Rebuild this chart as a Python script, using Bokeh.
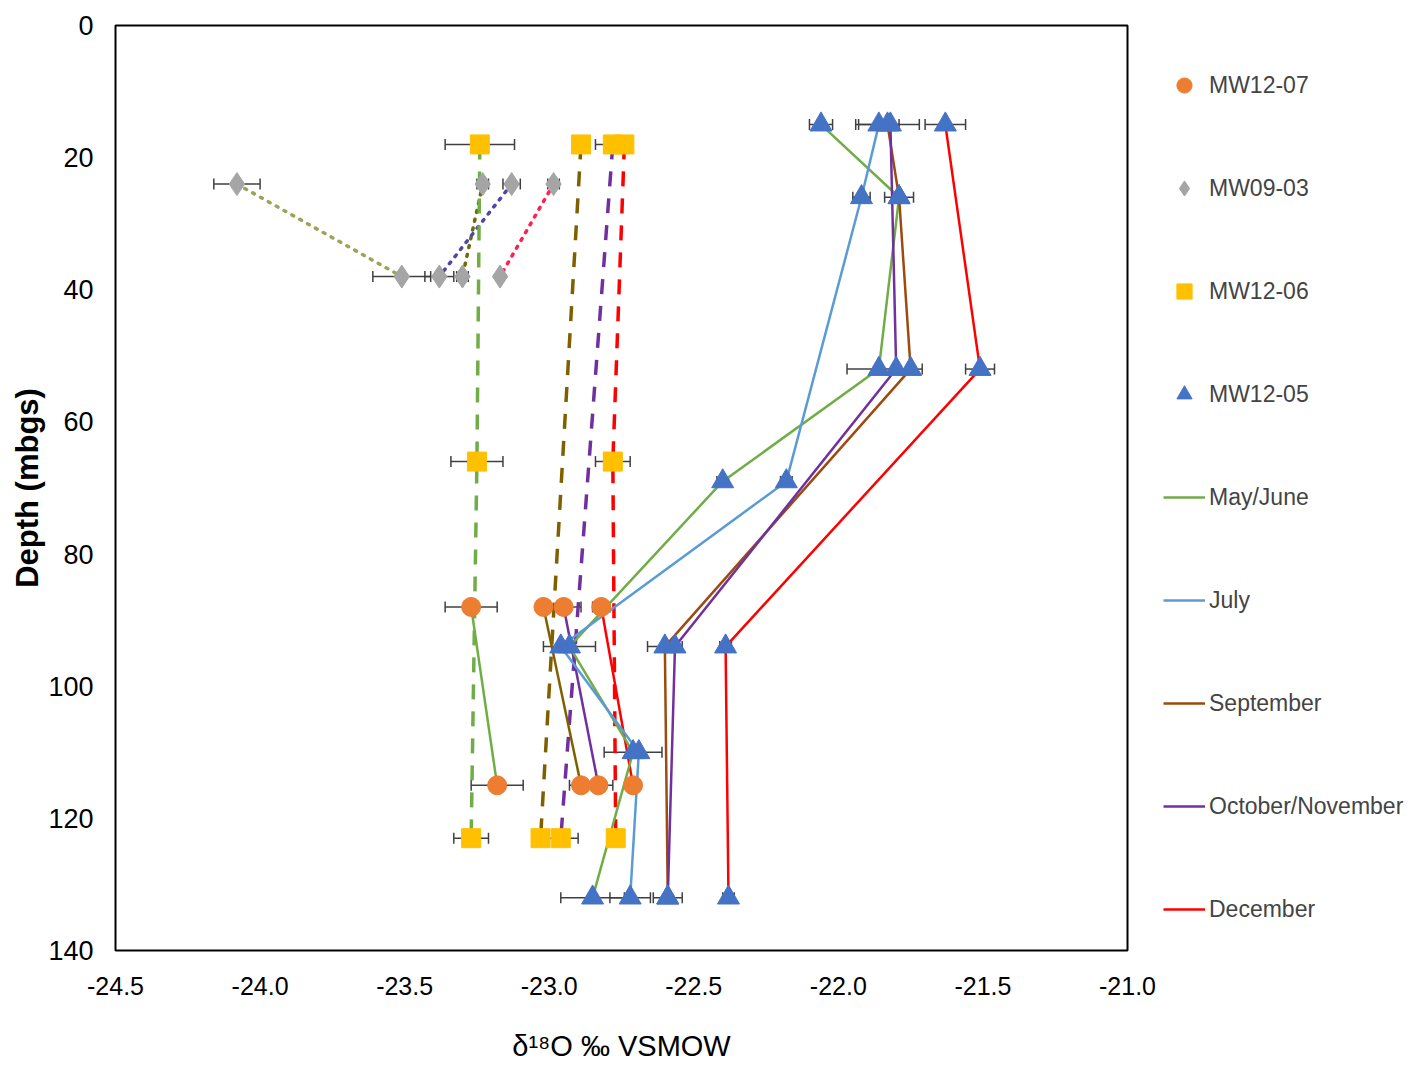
from bokeh.plotting import figure
from bokeh.models import (Range1d, FixedTicker, PrintfTickFormatter, Legend, LegendItem,
                          Whisker, ColumnDataSource, TeeHead)
from bokeh.embed import file_html
from bokeh.resources import INLINE

# ---------------- data (delta18O permil VSMOW vs depth mbgs) ----------------
# MW12-05 (triangles)
mw1205_may_d = [15, 26, 52, 69, 94, 110, 132]
mw1205_may_x = [-22.06, -21.79, -21.86, -22.40, -22.93, -22.71, -22.85]
mw1205_may_e = [0.04, 0.05, 0.11, 0.02, 0.09, 0.10, 0.11]
mw1205_jul_d = [15, 26, 69, 94, 110, 132]
mw1205_jul_x = [-21.86, -21.92, -22.18, -22.96, -22.69, -22.72]
mw1205_jul_e = [0.07, 0.03, 0.02, 0.0, 0.0, 0.07]
mw1205_sep_d = [15, 26, 52, 94, 132]
mw1205_sep_x = [-21.83, -21.79, -21.75, -22.60, -22.59]
mw1205_sep_e = [0.11, 0.0, 0.04, 0.06, 0.05]
mw1205_oct_d = [15, 52, 94, 132]
mw1205_oct_x = [-21.82, -21.80, -22.565, -22.59]
mw1205_oct_e = [0.0, 0.0, 0.0, 0.0]
mw1205_dec_d = [15, 52, 94, 132]
mw1205_dec_x = [-21.63, -21.51, -22.39, -22.38]
mw1205_dec_e = [0.07, 0.05, 0.02, 0.02]

# MW12-07 (circles)
mw1207_d = [88, 115]
mw1207_may_x = [-23.27, -23.18]
mw1207_may_e = [0.09, 0.09]
mw1207_sep_x = [-23.02, -22.89]
mw1207_sep_e = [0.0, 0.04]
mw1207_oct_x = [-22.95, -22.83]
mw1207_oct_e = [0.06, 0.05]
mw1207_dec_x = [-22.82, -22.71]
mw1207_dec_e = [0.03, 0.0]

# MW12-06 (squares)
mw1206_may_d = [18, 66, 123]
mw1206_may_x = [-23.24, -23.25, -23.27]
mw1206_may_e = [0.12, 0.09, 0.06]
mw1206_sep_d = [18, 123]
mw1206_sep_x = [-22.89, -23.03]
mw1206_sep_e = [0.0, 0.0]
mw1206_oct_d = [18, 123]
mw1206_oct_x = [-22.78, -22.96]
mw1206_oct_e = [0.06, 0.06]
mw1206_dec_d = [18, 66, 123]
mw1206_dec_x = [-22.74, -22.78, -22.77]
mw1206_dec_e = [0.0, 0.06, 0.0]

# MW09-03 (diamonds)
mw0903_d = [24, 38]
mw0903_may_x = [-24.08, -23.51]
mw0903_may_e = [0.08, 0.10]
mw0903_sep_x = [-23.23, -23.30]
mw0903_sep_e = [0.02, 0.02]
mw0903_oct_x = [-23.13, -23.38]
mw0903_oct_e = [0.03, 0.05]
mw0903_dec_x = [-22.985, -23.17]
mw0903_dec_e = [0.02, 0.0]

x_ticks = [-24.5, -24.0, -23.5, -23.0, -22.5, -22.0, -21.5, -21.0]
y_ticks = [0, 20, 40, 60, 80, 100, 120, 140]

station_names = ["MW12-07", "MW09-03", "MW12-06", "MW12-05"]
month_names = ["May/June", "July", "September", "October/November", "December"]

# ---------------- styling ----------------
FONT = "'Liberation Sans', Arial, sans-serif"

C_MAY = "#70AD47"
C_JUL = "#5B9BD5"
C_SEP = "#9C4A0E"
C_SEP2 = "#7F6000"
C_OCT = "#7030A0"
C_DEC = "#FF0000"

p = figure(frame_width=1012, frame_height=925,
           x_range=Range1d(-24.5, -21.0), y_range=Range1d(140, 0),
           output_backend="svg", toolbar_location=None,
           min_border_left=115, min_border_top=25, min_border_bottom=0,
           min_border_right=0)
p.background_fill_color = "white"
p.border_fill_color = "white"
p.outline_line_color = "black"
p.outline_line_width = 2
p.xgrid.visible = False
p.ygrid.visible = False

p.xaxis.ticker = FixedTicker(ticks=x_ticks)
p.xaxis.formatter = PrintfTickFormatter(format="%.1f")
p.yaxis.ticker = FixedTicker(ticks=y_ticks)
for ax in (p.xaxis, p.yaxis):
    ax.axis_line_color = None
    ax.major_tick_line_color = None
    ax.minor_tick_line_color = None
    ax.major_label_text_color = "black"
    ax.axis_label_text_color = "black"
    ax.axis_label_text_font_style = "normal"

p.xaxis.major_label_text_font = FONT
p.xaxis.major_label_text_font_size = "25px"
p.xaxis.major_label_standoff = 20
p.xaxis.axis_label = "\u03b4\u00b9\u2078O \u2030 VSMOW"
p.xaxis.axis_label_text_font = FONT
p.xaxis.axis_label_text_font_size = "29px"
p.xaxis.axis_label_standoff = 32

p.yaxis.major_label_text_font = FONT
p.yaxis.major_label_text_font_size = "27px"
p.yaxis.major_label_standoff = 16
p.yaxis.axis_label = "Depth (mbgs)"
p.yaxis.axis_label_text_font = FONT
p.yaxis.axis_label_text_font_size = "31px"
p.yaxis.axis_label_text_font_style = "bold"
p.yaxis.axis_label_standoff = 0

SOLID_W = 2.5
DASH_W = 3.5
DOT_W = 3.5


def add_errors(xs, ds, es):
    xl, xu, dd = [], [], []
    for x, d, e in zip(xs, ds, es):
        if e > 0:
            xl.append(x - e)
            xu.append(x + e)
            dd.append(d)
    if not dd:
        return
    src = ColumnDataSource(dict(base=dd, lower=xl, upper=xu))
    w = Whisker(source=src, base="base", lower="lower", upper="upper", dimension="width",
                line_color="#404040", line_width=1.5,
                lower_head=TeeHead(size=11, line_color="#404040", line_width=1.5),
                upper_head=TeeHead(size=11, line_color="#404040", line_width=1.5),
                level="underlay")
    p.add_layout(w)


# ---- lines ----
# MW09-03 dotted
p.line(mw0903_may_x, mw0903_d, line_color="#9EA35A", line_width=DOT_W, line_dash="2 7", line_cap="round")
p.line(mw0903_sep_x, mw0903_d, line_color="#6B6B10", line_width=DOT_W, line_dash="2 7", line_cap="round")
p.line(mw0903_oct_x, mw0903_d, line_color="#5046A8", line_width=DOT_W, line_dash="2 7", line_cap="round")
p.line(mw0903_dec_x, mw0903_d, line_color="#FF2050", line_width=DOT_W, line_dash="2 7", line_cap="round")

# MW12-06 dashed
p.line(mw1206_may_x, mw1206_may_d, line_color=C_MAY, line_width=DASH_W, line_dash="15 12")
p.line(mw1206_sep_x, mw1206_sep_d, line_color=C_SEP2, line_width=DASH_W, line_dash="15 12")
p.line(mw1206_oct_x, mw1206_oct_d, line_color=C_OCT, line_width=DASH_W, line_dash="15 12")
p.line(mw1206_dec_x, mw1206_dec_d, line_color=C_DEC, line_width=DASH_W, line_dash="15 12")

# MW12-07 solid
p.line(mw1207_may_x, mw1207_d, line_color=C_MAY, line_width=SOLID_W)
p.line(mw1207_sep_x, mw1207_d, line_color=C_SEP2, line_width=SOLID_W)
p.line(mw1207_oct_x, mw1207_d, line_color=C_OCT, line_width=SOLID_W)
p.line(mw1207_dec_x, mw1207_d, line_color=C_DEC, line_width=SOLID_W)

# MW12-05 solid
l_may = p.line(mw1205_may_x, mw1205_may_d, line_color=C_MAY, line_width=SOLID_W)
l_jul = p.line(mw1205_jul_x, mw1205_jul_d, line_color=C_JUL, line_width=SOLID_W)
l_sep = p.line(mw1205_sep_x, mw1205_sep_d, line_color=C_SEP, line_width=SOLID_W)
l_oct = p.line(mw1205_oct_x, mw1205_oct_d, line_color=C_OCT, line_width=SOLID_W)
l_dec = p.line(mw1205_dec_x, mw1205_dec_d, line_color=C_DEC, line_width=SOLID_W)

# ---- error bars ----
for xs, ds, es in [
    (mw1205_may_x, mw1205_may_d, mw1205_may_e), (mw1205_jul_x, mw1205_jul_d, mw1205_jul_e),
    (mw1205_sep_x, mw1205_sep_d, mw1205_sep_e), (mw1205_oct_x, mw1205_oct_d, mw1205_oct_e),
    (mw1205_dec_x, mw1205_dec_d, mw1205_dec_e),
    (mw1207_may_x, mw1207_d, mw1207_may_e), (mw1207_sep_x, mw1207_d, mw1207_sep_e),
    (mw1207_oct_x, mw1207_d, mw1207_oct_e), (mw1207_dec_x, mw1207_d, mw1207_dec_e),
    (mw1206_may_x, mw1206_may_d, mw1206_may_e), (mw1206_sep_x, mw1206_sep_d, mw1206_sep_e),
    (mw1206_oct_x, mw1206_oct_d, mw1206_oct_e), (mw1206_dec_x, mw1206_dec_d, mw1206_dec_e),
    (mw0903_may_x, mw0903_d, mw0903_may_e), (mw0903_sep_x, mw0903_d, mw0903_sep_e),
    (mw0903_oct_x, mw0903_d, mw0903_oct_e), (mw0903_dec_x, mw0903_d, mw0903_dec_e),
]:
    add_errors(xs, ds, es)

# ---- markers ----
c1207 = p.scatter(mw1207_may_x + mw1207_sep_x + mw1207_oct_x + mw1207_dec_x,
                  mw1207_d * 4, marker="circle", size=19,
                  fill_color="#ED7D31", line_color="#ED7D31")
c0903 = p.scatter(mw0903_may_x + mw0903_sep_x + mw0903_oct_x + mw0903_dec_x,
                  mw0903_d * 4, marker="diamond", size=23,
                  fill_color="#A5A5A5", line_color="#A5A5A5")
c1206 = p.scatter(mw1206_may_x + mw1206_sep_x + mw1206_oct_x + mw1206_dec_x,
                  mw1206_may_d + mw1206_sep_d + mw1206_oct_d + mw1206_dec_d,
                  marker="square", size=19, fill_color="#FFC000", line_color="#FFC000")
c1205 = p.scatter(mw1205_may_x + mw1205_jul_x + mw1205_sep_x + mw1205_oct_x + mw1205_dec_x,
                  mw1205_may_d + mw1205_jul_d + mw1205_sep_d + mw1205_oct_d + mw1205_dec_d,
                  marker="triangle", size=22, fill_color="#4472C4", line_color="#4472C4")

items = [LegendItem(label=n, renderers=[r]) for n, r in zip(station_names, [c1207, c0903, c1206, c1205])]
items += [LegendItem(label=n, renderers=[r]) for n, r in zip(month_names, [l_may, l_jul, l_sep, l_oct, l_dec])]
# tuple location: offset inside the right-hand panel, measured from its lower-left corner
legend = Legend(items=items, location=(36, 22), orientation="vertical",
                glyph_width=42, glyph_height=38, label_height=38,
                spacing=65, padding=0, margin=18, label_standoff=4,
                label_text_font=FONT, label_text_font_size="23px",
                border_line_color=None, background_fill_alpha=0)
p.add_layout(legend, "right")

open("out.html", "w").write(file_html(p, INLINE))
